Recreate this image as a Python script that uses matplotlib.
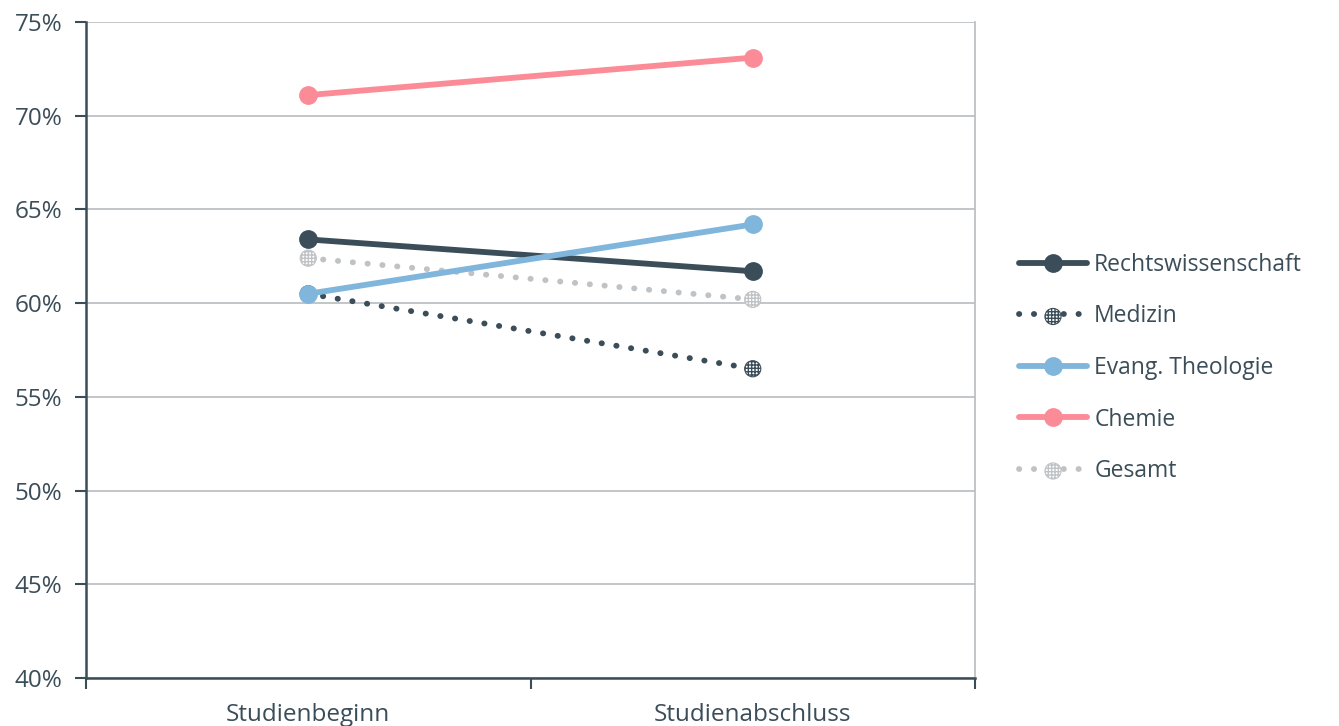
import matplotlib
matplotlib.use("Agg")
import matplotlib.pyplot as plt

plt.rcParams['font.family'] = ['Open Sans', 'DejaVu Sans']

categories = ["Studienbeginn", "Studienabschluss"]
series_names = ["Rechtswissenschaft", "Medizin", "Evang. Theologie", "Chemie", "Gesamt"]
rechts = [63.4, 61.7]
medizin = [60.5, 56.5]
theologie = [60.5, 64.2]
chemie = [71.1, 73.1]
gesamt = [62.4, 60.2]
y_ticks = [40, 45, 50, 55, 60, 65, 70, 75]

dark = "#3b4d58"
blue = "#80b6dc"
pink = "#fb8b97"
grey = "#bfc3c6"
grid_c = "#b7bcbf"

fig = plt.figure(figsize=(13.39, 7.26), dpi=100)
ax = fig.add_axes([86 / 1339, 1 - 678 / 726, (975 - 86) / 1339, (678 - 22) / 726])

x = list(range(len(categories)))
lw = 4.2
ms = 12.5
dot_style = (0, (0.05, 2.5))
dot_lw = 4.2


def solid(vals, color):
    return ax.plot(x, vals, color=color, lw=lw, marker='o', ms=ms, solid_capstyle='round', zorder=3)[0]


def dotted(vals, color):
    ln = ax.plot(x, vals, color=color, lw=dot_lw, linestyle=dot_style, dash_capstyle='round', zorder=2.5)[0]
    sc = ax.scatter(x, vals, s=135, marker='o', facecolor='white', edgecolor=color,
                    hatch='+++++', linewidth=0.8, zorder=2.8)
    return ln, sc


g_handles = dotted(gesamt, grey)
m_handles = dotted(medizin, dark)
r_handle = solid(rechts, dark)
t_handle = solid(theologie, blue)
c_handle = solid(chemie, pink)

ax.set_xlim(-0.5, 1.5)
ax.set_ylim(40, 75)
ax.set_yticks(y_ticks)
ax.set_yticklabels([f"{v}%" for v in y_ticks])
ax.set_xticks([-0.5, 0.5, 1.5])
ax.set_xticklabels([])
ax.set_xticks(x, minor=True)
ax.set_xticklabels(categories, minor=True)
ax.tick_params(axis='x', which='minor', length=0, pad=18, labelsize=17.5, labelcolor=dark)
ax.tick_params(axis='x', which='major', length=8, width=1.5, color=dark, direction='out')
ax.tick_params(axis='y', length=8, width=1.5, color=dark, labelsize=17.5, labelcolor=dark, pad=9)

ax.grid(axis='y', color=grid_c, lw=1.2, zorder=0)
ax.spines['top'].set_visible(False)
ax.spines['right'].set_color(grid_c)
ax.spines['right'].set_linewidth(1.2)
ax.spines['left'].set_color(dark)
ax.spines['left'].set_linewidth(1.8)
ax.spines['bottom'].set_color(dark)
ax.spines['bottom'].set_linewidth(1.8)
ax.set_axisbelow(True)

handles = [r_handle, m_handles, t_handle, c_handle, g_handles]
leg = fig.legend(handles, series_names, loc='center left', bbox_to_anchor=(998 / 1339, 1 - 368 / 726),
                 frameon=False, fontsize=16.5, handlelength=3.0, labelspacing=1.2, handletextpad=0.3,
                 scatterpoints=1)
for t in leg.get_texts():
    t.set_color(dark)

fig.savefig("out.png", dpi=100)
